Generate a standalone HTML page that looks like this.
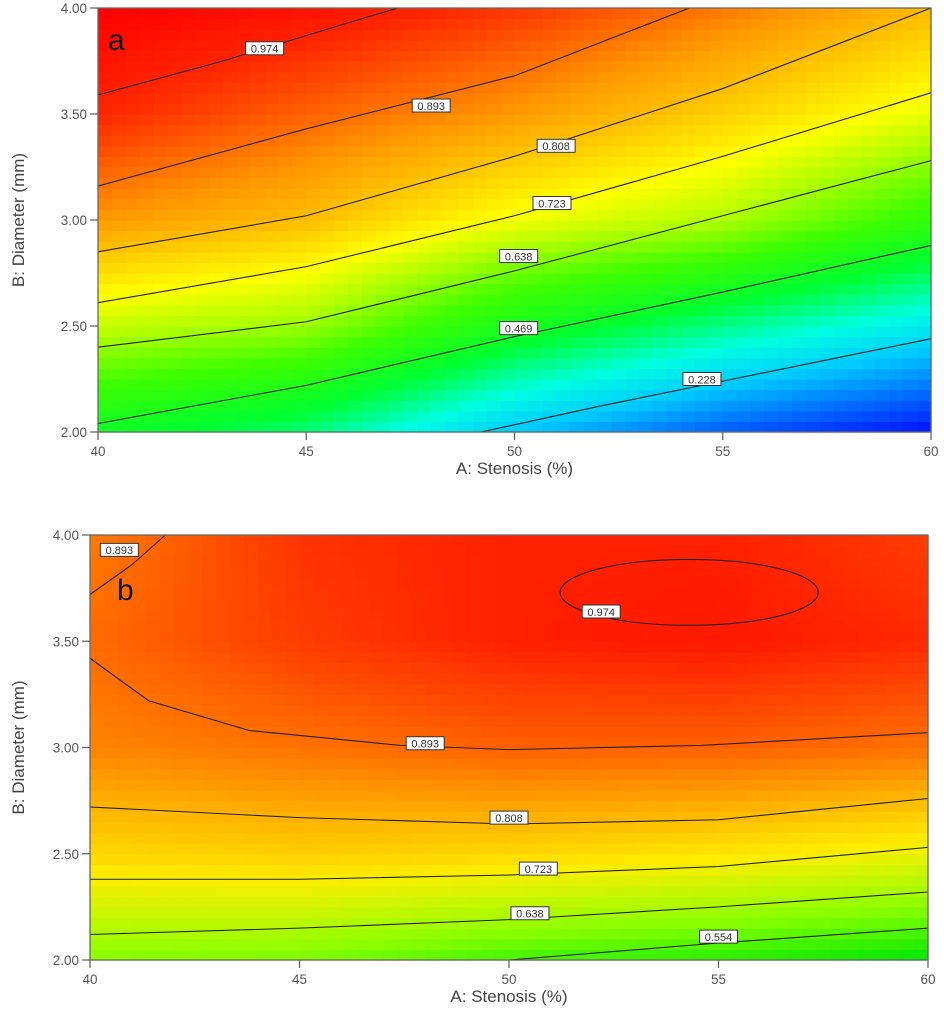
<!DOCTYPE html>
<html><head><meta charset="utf-8"><style>
body{margin:0;background:#fff;width:944px;height:1019px;overflow:hidden}
svg{display:block}
text{font-family:"Liberation Sans",sans-serif}
</style></head><body>
<svg id="chart" width="944" height="1019"></svg>
<script>
// ---------- DATA ----------
const xTicks=[40,45,50,55,60];
const yTicks=[2.0,2.5,3.0,3.5,4.0];
const gridA=[40,45,50,55,60];
const gridB=[2.0,2.5,3.0,3.5,4.0];
// values[iB][iA]
const valuesA=[
 [0.45,0.37,0.20,0.08,0.00],
 [0.67,0.63,0.47,0.36,0.26],
 [0.85,0.805,0.71,0.65,0.52],
 [0.955,0.90,0.85,0.78,0.70],
 [1.00,0.98,0.94,0.88,0.81]];
const valuesB=[
 [0.60,0.59,0.55,0.53,0.50],
 [0.75,0.76,0.75,0.73,0.70],
 [0.85,0.87,0.89,0.89,0.87],
 [0.88,0.93,0.96,0.97,0.95],
 [0.86,0.94,0.96,0.96,0.93]];
const contourLevelsA=["0.974","0.893","0.808","0.723","0.638","0.469","0.228"];
const contourLinesA=[
 [[40,3.59],[43,3.75],[46,3.93],[47.2,4.0]],
 [[40,3.16],[45,3.43],[50,3.68],[54.2,4.0]],
 [[40,2.85],[45,3.02],[50,3.30],[55,3.62],[60,4.0]],
 [[40,2.61],[45,2.78],[50,3.02],[55,3.30],[60,3.60]],
 [[40,2.40],[45,2.52],[50,2.76],[55,3.02],[60,3.28]],
 [[40,2.04],[45,2.22],[50,2.45],[55,2.66],[60,2.88]],
 [[49.2,2.0],[52,2.12],[55,2.24],[58,2.36],[60,2.44]]];
const labelPosA=[[44.0,3.81],[48.0,3.54],[51.0,3.35],[50.9,3.08],[50.1,2.83],[50.1,2.49],[54.5,2.25]];
const contourLevelsB=["0.893","0.893","0.808","0.723","0.638","0.554"];
const contourLinesB=[
 [[40,3.72],[41,3.86],[41.8,4.0]],
 [[40,3.42],[41.4,3.22],[43.8,3.08],[47.4,3.01],[50,2.99],[54.6,3.01],[60,3.07]],
 [[40,2.72],[45,2.67],[50,2.64],[55,2.66],[60,2.76]],
 [[40,2.38],[45,2.38],[50,2.40],[55,2.44],[60,2.53]],
 [[40,2.12],[45,2.15],[50,2.19],[55,2.25],[60,2.32]],
 [[50,2.0],[55,2.08],[60,2.15]]];
const labelPosB=[[40.7,3.93],[48.0,3.02],[50.0,2.67],[50.7,2.43],[50.5,2.22],[55.0,2.11]];
const ellipseB={level:"0.974",cA:54.3,cB:3.73,rA:3.08,rB:0.155,labelA:52.2,labelB:3.64};

const stopsA=[[0,'#0010ff'],[0.2,'#00c8ff'],[0.3,'#00ffe0'],[0.42,'#00ff30'],[0.55,'#40ff00'],[0.72,'#ffff00'],[0.85,'#ff9a00'],[0.95,'#ff2a00'],[1,'#ff0000']];
const stopsB=[[0.5,'#00e800'],[0.6,'#88ff00'],[0.72,'#ffee00'],[0.8,'#ffb000'],[0.88,'#ff6a00'],[0.97,'#ff1800']];

const NS='http://www.w3.org/2000/svg';
const svg=document.getElementById('chart');
function mk(tag,attrs,parent){const e=document.createElementNS(NS,tag);for(const k in attrs)e.setAttribute(k,attrs[k]);(parent||svg).appendChild(e);return e;}
function hex(h){return [parseInt(h.substr(1,2),16),parseInt(h.substr(3,2),16),parseInt(h.substr(5,2),16)];}
function cmap(v,stops){
 if(v<=stops[0][0])return stops[0][1];
 for(let i=1;i<stops.length;i++){if(v<=stops[i][0]){const t=(v-stops[i-1][0])/(stops[i][0]-stops[i-1][0]);const a=hex(stops[i-1][1]),b=hex(stops[i][1]);return 'rgb('+a.map((c,j)=>Math.round(c+(b[j]-c)*t)).join(',')+')';}}
 return stops[stops.length-1][1];}
function interp(vals,A,B){
 let i=Math.min(3,Math.max(0,Math.floor((A-40)/5))),j=Math.min(3,Math.max(0,Math.floor((B-2)/0.5)));
 const tx=(A-gridA[i])/5,ty=(B-gridB[j])/0.5;
 const v00=vals[j][i],v10=vals[j][i+1],v01=vals[j+1][i],v11=vals[j+1][i+1];
 return v00*(1-tx)*(1-ty)+v10*tx*(1-ty)+v01*(1-tx)*ty+v11*tx*ty;}

function panel(p){
 const {L,R,T,Bt,vals,stops,levels,lines,labels,name,letter,lx,ly}=p;
 const sx=a=>L+(a-40)/20*(R-L), sy=b=>Bt-(b-2)/2*(Bt-T);
 const g=mk('g',{});
 const hm=mk('g',{},g);
 const NX=60,NY=40;
 for(let i=0;i<NX;i++)for(let j=0;j<NY;j++){
  const A=40+(i+0.5)/NX*20,B=2+(j+0.5)/NY*2;
  const x0=sx(40+i/NX*20),x1=sx(40+(i+1)/NX*20),y0=sy(2+(j+1)/NY*2),y1=sy(2+j/NY*2);
  const r=mk('rect',{x:x0,y:y0,width:x1-x0+0.6,height:y1-y0+0.6,fill:cmap(interp(vals,A,B),stops)},hm);
  }
 lines.forEach((ln,k)=>{
  const pl=mk('polyline',{points:ln.map(p=>sx(p[0])+','+sy(p[1])).join(' '),fill:'none',stroke:'#222','stroke-width':1.1},g);
  });
 if(p.ell){const e=p.ell;
  const el=mk('ellipse',{cx:sx(e.cA),cy:sy(e.cB),rx:sx(e.cA+e.rA)-sx(e.cA),ry:sy(e.cB)-sy(e.cB+e.rB),fill:'none',stroke:'#222','stroke-width':1.1},g);
  
  levels.push(e.level);labels.push([e.labelA,e.labelB]);}
 labels.forEach((lp,k)=>{
  const cx=sx(lp[0]),cy=sy(lp[1]);
  const r=mk('rect',{x:cx-19,y:cy-6.5,width:38,height:13,fill:'#fff',stroke:'#333','stroke-width':1},g);
  
  const t=mk('text',{x:cx,y:cy+4.3,'text-anchor':'middle','font-size':11,fill:'#333'},g);t.textContent=levels[k];
  });
 const fr=mk('rect',{x:L,y:T,width:R-L,height:Bt-T,fill:'none',stroke:'#666','stroke-width':1.3},g);
 
 yTicks.forEach(v=>{const y=sy(v);mk('line',{x1:L-8,x2:L,y1:y,y2:y,stroke:'#666','stroke-width':1.3},g);
  const t=mk('text',{x:L-11,y:y+5,'text-anchor':'end','font-size':13.5,fill:'#555'},g);t.textContent=v.toFixed(2);
  });
 xTicks.forEach(v=>{const x=sx(v);mk('line',{x1:x,x2:x,y1:Bt,y2:Bt+8,stroke:'#666','stroke-width':1.3},g);
  const t=mk('text',{x:x,y:Bt+24,'text-anchor':'middle','font-size':13.5,fill:'#555'},g);t.textContent=v;
  });
 const xt=mk('text',{x:(L+R)/2,y:Bt+42,'text-anchor':'middle','font-size':17,fill:'#444'},g);xt.textContent='A: Stenosis (%)';
 
 const yc=(T+Bt)/2;
 const yt=mk('text',{x:24,y:yc,'text-anchor':'middle','font-size':17,fill:'#444',transform:'rotate(-90 24 '+yc+')'},g);yt.textContent='B: Diameter (mm)';
 
 const pt=mk('text',{x:lx,y:ly,'font-size':30,fill:'#111'},g);pt.textContent=letter;
 
}
panel({L:98,R:931,T:8,Bt:432,vals:valuesA,stops:stopsA,levels:contourLevelsA.slice(),lines:contourLinesA,labels:labelPosA.slice(),name:'panel-a',letter:'a',lx:108,ly:50});
panel({L:90,R:928,T:535,Bt:960,vals:valuesB,stops:stopsB,levels:contourLevelsB.slice(),lines:contourLinesB,labels:labelPosB.slice(),name:'panel-b',letter:'b',lx:117,ly:600,ell:ellipseB});
</script>
</body></html>
